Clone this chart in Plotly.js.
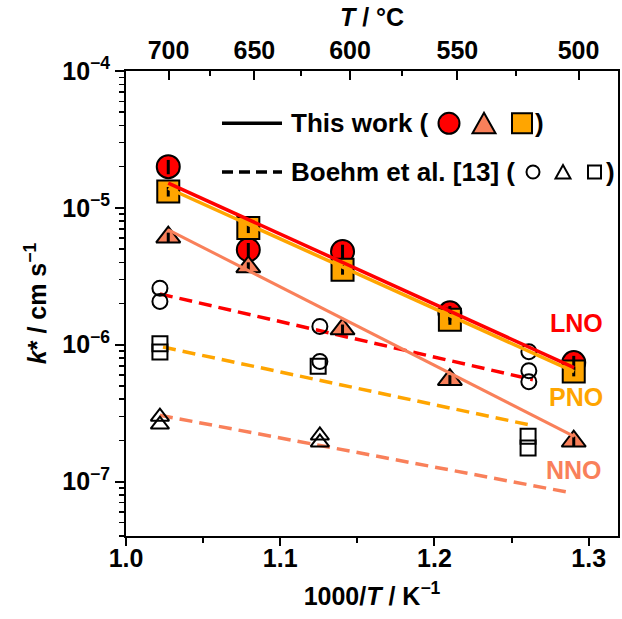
<!DOCTYPE html>
<html><head><meta charset="utf-8">
<script src="https://cdn.plot.ly/plotly-3.0.1.min.js"></script>
<style>html,body{margin:0;padding:0;background:#fff}#chart{width:622px;height:619px}</style>
</head><body><div id="chart"></div>
<script>
// ---- data ----
const invT_thisWork = [1.0274, 1.0793, 1.1404, 1.2100, 1.2903];
const lno_thisWork = [2.00e-5, 4.94e-6, 4.80e-6, 1.71e-6, 7.40e-7];
const pno_thisWork = [1.315e-5, 7.11e-6, 3.53e-6, 1.52e-6, 6.38e-7];
const nno_thisWork = [6.1e-6, 3.7e-6, 1.30e-6, 5.55e-7, 1.97e-7];

const fitX_thisWork = [1.0274, 1.2905];
const lno_fit = [1.515e-5, 6.8e-7];
const pno_fit = [1.39e-5, 6.35e-7];
const nno_fit = [6.91e-6, 2.14e-7];

const invT_boehmLNO = [1.022, 1.022, 1.1257, 1.1257, 1.2612, 1.2612, 1.2612];
const lno_boehm = [2.59e-6, 2.07e-6, 1.36e-6, 7.55e-7, 8.89e-7, 6.46e-7, 5.37e-7];
const invT_boehmPNO = [1.022, 1.022, 1.1246, 1.2607, 1.2607];
const pno_boehm = [1.016e-6, 8.84e-7, 6.95e-7, 2.14e-7, 1.76e-7];
const invT_boehmNNO = [1.022, 1.022, 1.1257, 1.1257];
const nno_boehm = [2.98e-7, 2.61e-7, 2.17e-7, 1.93e-7];

const lnoFitX_boehm = [1.022, 1.2638];
const lno_fit_boehm = [2.35e-6, 5.55e-7];
const pnoFitX_boehm = [1.024, 1.2605];
const pno_fit_boehm = [9.61e-7, 2.61e-7];
const nnoFitX_boehm = [1.022, 1.2852];
const nno_fit_boehm = [3.05e-7, 8.41e-8];

const bottomTicks = [1.0, 1.1, 1.2, 1.3];
const bottomTickText = ['1.0', '1.1', '1.2', '1.3'];
const topTempsC = [700, 650, 600, 550, 500];
const topMinorTempsC = [675, 625, 575, 525];
const yTicks = [1e-7, 1e-6, 1e-5, 1e-4];
const yTickText = ['10<sup>−7</sup>', '10<sup>−6</sup>', '10<sup>−5</sup>', '10<sup>−4</sup>'];

// ---- styles ----
const RED = '#FF0000', ORANGE = '#FFA500', CORAL = '#F9805A';
const FONT = 'Liberation Sans, Arial, sans-serif';
const xRange = [1.0, 1.319];
const yRange = [Math.log10(4e-8), -4];

const toInv = t => 1000 / (t + 273.15);
const yMinor = [];
for (let e = -8; e <= -5; e++) for (let m = 2; m <= 9; m++) yMinor.push(m * Math.pow(10, e));

const dash = '13px,7px';
const traces = [
  // Boehm dashed fits
  {x: lnoFitX_boehm, y: lno_fit_boehm, mode: 'lines', line: {color: RED, width: 3.5, dash: dash}},
  {x: pnoFitX_boehm, y: pno_fit_boehm, mode: 'lines', line: {color: ORANGE, width: 3.5, dash: dash}},
  {x: nnoFitX_boehm, y: nno_fit_boehm, mode: 'lines', line: {color: CORAL, width: 3.5, dash: dash}},
  // Boehm open markers
  {x: invT_boehmLNO, y: lno_boehm, mode: 'markers', marker: {symbol: 'circle-open', size: 15, color: '#000', line: {width: 2}}},
  {x: invT_boehmPNO, y: pno_boehm, mode: 'markers', marker: {symbol: 'square-open', size: 15, color: '#000', line: {width: 2}}},
  {x: invT_boehmNNO, y: nno_boehm, mode: 'markers', marker: {symbol: 'triangle-up-open', size: 16, color: '#000', line: {width: 2}}},
  // This work markers
  {x: invT_thisWork, y: lno_thisWork, mode: 'markers', marker: {symbol: 'circle', size: 23, color: RED, line: {color: '#000', width: 2}}},
  {x: invT_thisWork, y: nno_thisWork, mode: 'markers', marker: {symbol: 'triangle-up', size: 21, color: CORAL, line: {color: '#000', width: 2}}},
  {x: invT_thisWork, y: pno_thisWork, mode: 'markers', marker: {symbol: 'square', size: 22, color: ORANGE, line: {color: '#000', width: 2}}},
  // error bars drawn over the filled markers
  {x: invT_thisWork, y: lno_thisWork, mode: 'markers', marker: {size: 1, opacity: 0},
   error_y: {type: 'percent', value: 12, color: '#000', thickness: 3, width: 0}},
  {x: invT_thisWork, y: pno_thisWork, mode: 'markers', marker: {size: 1, opacity: 0},
   error_y: {type: 'percent', value: 8, color: '#000', thickness: 3, width: 0}},
  {x: invT_thisWork, y: nno_thisWork, mode: 'markers', marker: {size: 1, opacity: 0},
   error_y: {type: 'percent', value: 8, color: '#000', thickness: 3, width: 0}},
  // This work fits (on top axis overlay so the top axis exists)
  {x: fitX_thisWork, y: pno_fit, mode: 'lines', line: {color: ORANGE, width: 3.5}, xaxis: 'x2'},
  {x: fitX_thisWork, y: lno_fit, mode: 'lines', line: {color: RED, width: 3.5}, xaxis: 'x2'},
  {x: fitX_thisWork, y: nno_fit, mode: 'lines', line: {color: CORAL, width: 3}, xaxis: 'x2'}
];

const tickFont = {family: FONT, size: 25, color: '#000', weight: 'bold'};
const titleFont = {family: FONT, size: 25, color: '#000', weight: 'bold'};

// legend geometry in paper coordinates
const row1 = 0.8875, row2 = 0.7828;
const px = v => (v - 126) / 492;

const shapes = [
  {type: 'line', xref: 'paper', yref: 'paper', x0: px(222), x1: px(282), y0: row1, y1: row1, line: {color: '#000', width: 3.5}},
  {type: 'line', xref: 'paper', yref: 'paper', x0: px(222), x1: px(282), y0: row2, y1: row2, line: {color: '#000', width: 3.5, dash: '11px,6px'}},
  {type: 'circle', xref: 'paper', yref: 'paper', xsizemode: 'pixel', ysizemode: 'pixel', xanchor: px(449), yanchor: row1,
   x0: -10.5, x1: 10.5, y0: -10.5, y1: 10.5, fillcolor: RED, line: {color: '#000', width: 2}},
  {type: 'path', xref: 'paper', yref: 'paper', xsizemode: 'pixel', ysizemode: 'pixel', xanchor: px(484), yanchor: row1,
   path: 'M -11.5 -10 L 11.5 -10 L 0 10.5 Z', fillcolor: CORAL, line: {color: '#000', width: 2}},
  {type: 'rect', xref: 'paper', yref: 'paper', xsizemode: 'pixel', ysizemode: 'pixel', xanchor: px(522), yanchor: row1,
   x0: -10, x1: 10, y0: -10, y1: 10, fillcolor: ORANGE, line: {color: '#000', width: 2}},
  {type: 'circle', xref: 'paper', yref: 'paper', xsizemode: 'pixel', ysizemode: 'pixel', xanchor: px(533), yanchor: row2,
   x0: -6.5, x1: 6.5, y0: -6.5, y1: 6.5, line: {color: '#000', width: 2}},
  {type: 'path', xref: 'paper', yref: 'paper', xsizemode: 'pixel', ysizemode: 'pixel', xanchor: px(563), yanchor: row2,
   path: 'M -7.5 -6.5 L 7.5 -6.5 L 0 7 Z', line: {color: '#000', width: 2}},
  {type: 'rect', xref: 'paper', yref: 'paper', xsizemode: 'pixel', ysizemode: 'pixel', xanchor: px(594.5), yanchor: row2,
   x0: -6.5, x1: 6.5, y0: -6.5, y1: 6.5, line: {color: '#000', width: 2}}
];

const annFont = {family: FONT, size: 26, color: '#000', weight: 'bold'};
const annotations = [
  {xref: 'paper', yref: 'paper', x: px(289), y: row1, xanchor: 'left', yanchor: 'middle', text: 'This work (', showarrow: false, font: annFont},
  {xref: 'paper', yref: 'paper', x: px(533), y: row1, xanchor: 'left', yanchor: 'middle', text: ')', showarrow: false, font: annFont},
  {xref: 'paper', yref: 'paper', x: px(289), y: row2, xanchor: 'left', yanchor: 'middle', text: 'Boehm et al. [13] (', showarrow: false, font: annFont},
  {xref: 'paper', yref: 'paper', x: px(604), y: row2, xanchor: 'left', yanchor: 'middle', text: ')', showarrow: false, font: annFont},
  {xref: 'paper', yref: 'paper', x: px(576), y: (536 - 323) / 465, xanchor: 'center', yanchor: 'middle', text: 'LNO', showarrow: false, font: {family: FONT, size: 25, color: RED, weight: 'bold'}},
  {xref: 'paper', yref: 'paper', x: px(576), y: (536 - 397) / 465, xanchor: 'center', yanchor: 'middle', text: 'PNO', showarrow: false, font: {family: FONT, size: 25, color: ORANGE, weight: 'bold'}},
  {xref: 'paper', yref: 'paper', x: px(574), y: (536 - 470) / 465, xanchor: 'center', yanchor: 'middle', text: 'NNO', showarrow: false, font: {family: FONT, size: 25, color: CORAL, weight: 'bold'}}
];

const layout = {
  width: 622, height: 619,
  margin: {l: 126, r: 4, t: 71, b: 83},
  paper_bgcolor: '#fff', plot_bgcolor: '#fff',
  showlegend: false,
  font: {family: FONT, color: '#000'},
  xaxis: {
    range: xRange, showgrid: false, zeroline: false,
    showline: true, linecolor: '#000', linewidth: 2, mirror: true,
    ticks: 'outside', ticklen: 8, tickwidth: 2, tickcolor: '#000',
    tickmode: 'array', tickvals: bottomTicks, ticktext: bottomTickText,
    minor: {tickmode: 'array', tickvals: [1.05, 1.15, 1.25], ticks: 'outside', ticklen: 5, tickwidth: 2, tickcolor: '#000'},
    tickfont: tickFont, ticklabelstandoff: -9,
    title: {text: '1000/<i>T</i> / K<sup>−1</sup>', font: titleFont, standoff: 16}
  },
  xaxis2: {
    overlaying: 'x', side: 'top', anchor: 'y', range: xRange, showgrid: false, zeroline: false,
    showline: true, linecolor: '#000', linewidth: 2,
    ticks: 'inside', ticklen: 9, tickwidth: 2, tickcolor: '#000',
    tickmode: 'array', tickvals: topTempsC.map(toInv), ticktext: topTempsC.map(String),
    minor: {tickmode: 'array', tickvals: topMinorTempsC.map(toInv), ticks: 'inside', ticklen: 5, tickwidth: 2, tickcolor: '#000'},
    tickfont: tickFont,
    title: {text: '<i>T</i> / °C', font: titleFont, standoff: 2}
  },
  yaxis: {
    type: 'log', range: yRange, showgrid: false, zeroline: false,
    showline: true, linecolor: '#000', linewidth: 2, mirror: true,
    ticks: 'outside', ticklen: 9, tickwidth: 2, tickcolor: '#000',
    tickmode: 'array', tickvals: yTicks, ticktext: yTickText,
    minor: {tickmode: 'array', tickvals: yMinor, ticks: 'outside', ticklen: 5, tickwidth: 1.5, tickcolor: '#000'},
    tickfont: tickFont,
    title: {text: '<i>k</i>* / cm s<sup>−1</sup>', font: titleFont, standoff: 8}
  },
  shapes: shapes,
  annotations: annotations
};

Plotly.newPlot('chart', traces, layout, {displayModeBar: false, staticPlot: true});
</script>
</body></html>
